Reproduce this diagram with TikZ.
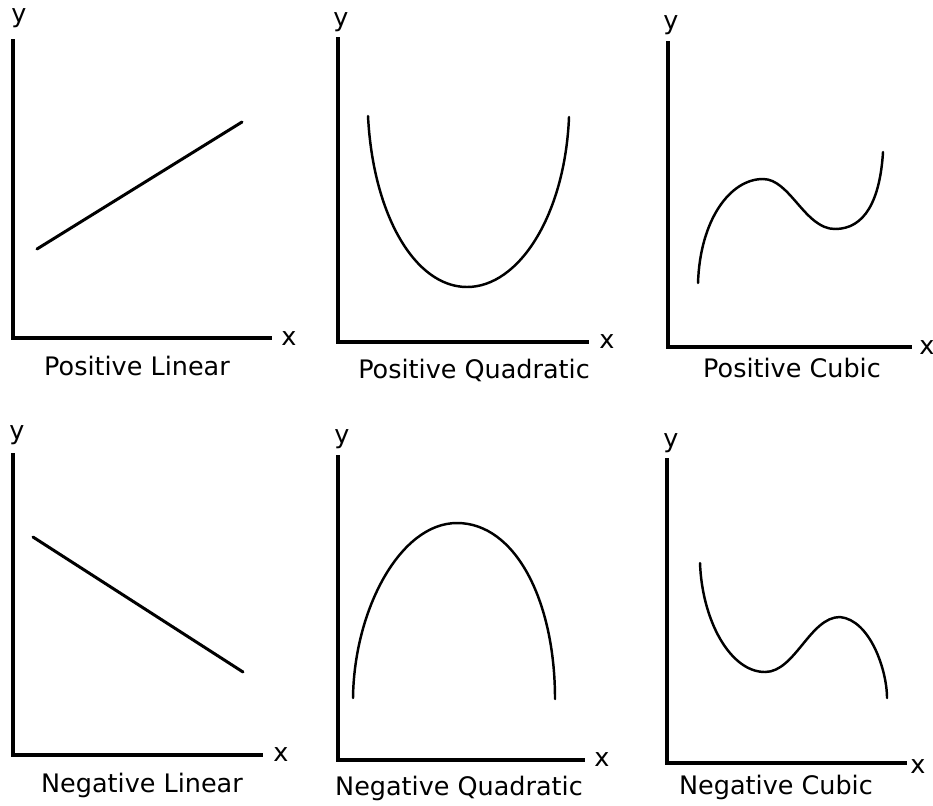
\documentclass[tikz,border=0pt]{standalone}
\usepackage{fontspec}
\setmainfont{DejaVu Sans}
\tikzset{
  every node/.style = {font=\fontsize{14.5}{16}\selectfont, inner sep=0pt},
  eje/.style        = {draw=black, line width=2.1pt, line join=miter},
  curva/.style      = {draw=black, line width=1.4pt, line cap=round},
  recta/.style      = {draw=black, line width=1.7pt, line cap=round},
  letra/.style      = {text=black},
  pie/.style        = {text=black, anchor=base},
}
\begin{document}
\begin{tikzpicture}

\useasboundingbox (0,0) rectangle (18.66,-16.10);

% =============================================================================
% FILA 1. Lineal, cuadratica y cubica positivas
% =============================================================================
\coordinate (aPL) at (0.26,-0.78);
\coordinate (oPL) at (0.26,-6.76);
\coordinate (bPL) at (5.44,-6.76);
\node[letra] (yPL) at (0.38,-0.36) {y};
\node[letra] (xPL) at (5.78,-6.78) {x};
\draw[eje] (aPL) -- (oPL) -- (bPL);
\draw[recta] (0.74,-4.98) -- (4.84,-2.44);
\node[pie] (tPL) at (2.74,-7.50) {Positive Linear};

\coordinate (aPQ) at (6.76,-0.74);
\coordinate (oPQ) at (6.76,-6.84);
\coordinate (bPQ) at (11.78,-6.84);
\node[letra] (yPQ) at (6.82,-0.44) {y};
\node[letra] (xPQ) at (12.14,-6.84) {x};
\draw[eje] (aPQ) -- (oPQ) -- (bPQ);
\draw[curva] (7.36,-2.32) .. controls (7.46,-4.30) and (8.30,-5.74) .. (9.34,-5.74)
                          .. controls (10.38,-5.74) and (11.30,-4.30) .. (11.38,-2.34);
\node[pie] (tPQ) at (9.48,-7.56) {Positive Quadratic};

\coordinate (aPC) at (13.36,-0.82);
\coordinate (oPC) at (13.36,-6.94);
\coordinate (bPC) at (18.24,-6.94);
\node[letra] (yPC) at (13.42,-0.50) {y};
\node[letra] (xPC) at (18.54,-6.96) {x};
\draw[eje] (aPC) -- (oPC) -- (bPC);
\draw[curva] (13.96,-5.66) .. controls (14.00,-4.40) and (14.60,-3.58) .. (15.26,-3.58)
                           .. controls (15.80,-3.58) and (16.10,-4.58) .. (16.70,-4.58)
                           .. controls (17.30,-4.58) and (17.60,-4.00) .. (17.66,-3.04);
\node[pie] (tPC) at (15.84,-7.54) {Positive Cubic};

% =============================================================================
% FILA 2. Las mismas formas con signo negativo
% =============================================================================
\coordinate (aNL) at (0.26,-9.06);
\coordinate (oNL) at (0.26,-15.10);
\coordinate (bNL) at (5.26,-15.10);
\node[letra] (yNL) at (0.34,-8.70) {y};
\node[letra] (xNL) at (5.62,-15.10) {x};
\draw[eje] (aNL) -- (oNL) -- (bNL);
\draw[recta] (0.66,-10.74) -- (4.86,-13.44);
\node[pie] (tNL) at (2.84,-15.84) {Negative Linear};

\coordinate (aNQ) at (6.76,-9.10);
\coordinate (oNQ) at (6.76,-15.20);
\coordinate (bNQ) at (11.70,-15.20);
\node[letra] (yNQ) at (6.84,-8.78) {y};
\node[letra] (xNQ) at (12.04,-15.20) {x};
\draw[eje] (aNQ) -- (oNQ) -- (bNQ);
\draw[curva] (7.06,-13.96) .. controls (7.08,-12.20) and (8.00,-10.46) .. (9.14,-10.46)
                           .. controls (10.30,-10.46) and (11.10,-12.00) .. (11.10,-13.98);
\node[pie] (tNQ) at (9.18,-15.90) {Negative Quadratic};

\coordinate (aNC) at (13.34,-9.16);
\coordinate (oNC) at (13.34,-15.26);
\coordinate (bNC) at (18.14,-15.26);
\node[letra] (yNC) at (13.42,-8.86) {y};
\node[letra] (xNC) at (18.36,-15.34) {x};
\draw[eje] (aNC) -- (oNC) -- (bNC);
\draw[curva] (14.00,-11.26) .. controls (14.04,-12.40) and (14.60,-13.44) .. (15.30,-13.44)
                            .. controls (15.90,-13.44) and (16.20,-12.34) .. (16.80,-12.34)
                            .. controls (17.40,-12.40) and (17.74,-13.40) .. (17.74,-13.96);
\node[pie] (tNC) at (15.52,-15.88) {Negative Cubic};

\end{tikzpicture}
\end{document}
